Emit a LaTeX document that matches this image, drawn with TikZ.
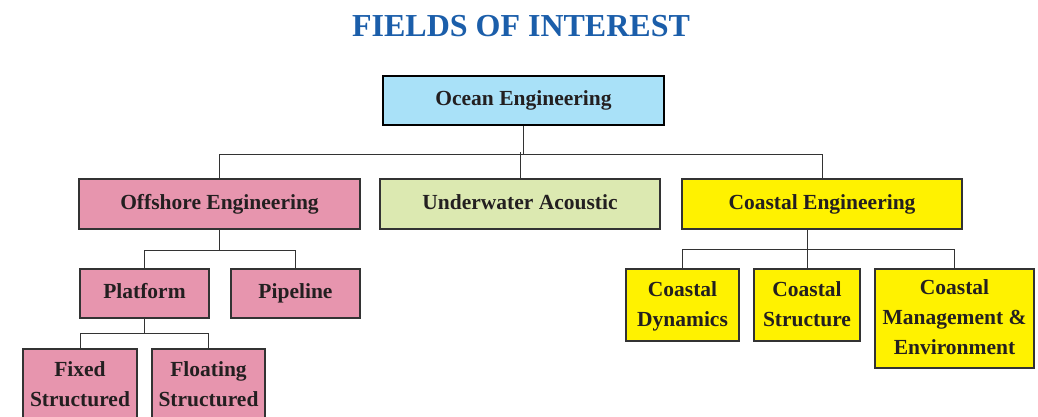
\documentclass[tikz,border=0pt]{standalone}
\usepackage{fontspec}
\setmainfont{Liberation Serif}
\usepackage{xcolor}
\usetikzlibrary{positioning, calc}
\definecolor{titlefg}{HTML}{1B5EAA}
\definecolor{boxfg}{HTML}{231F20}
\definecolor{boxborder}{HTML}{333333}
\definecolor{oceanbg}{HTML}{A9E1F8}
\definecolor{offbg}{HTML}{E795AE}
\definecolor{waterbg}{HTML}{DCE9B1}
\definecolor{coastbg}{HTML}{FFF200}
\definecolor{linkcol}{HTML}{333333}
\tikzset{
    fieldbox/.style 2 args={rectangle, fill=#1, draw=boxborder, line width=1.3pt, minimum width=#2, inner sep=0pt, align=center, font=\fontsize{21.5}{30}\selectfont\bfseries, text=boxfg},
    oneline/.style={text height=15pt, text depth=5pt},
    headbox/.style={rectangle, fill=oceanbg, draw=black, line width=2.4pt, minimum width=281pt, minimum height=49pt, inner sep=0pt, align=center, font=\fontsize{21.5}{30}\selectfont\bfseries, text=boxfg, oneline},
    titletext/.style={font=\fontsize{32}{38}\selectfont\bfseries, text=titlefg},
    link/.style={linkcol, line width=1pt},
}
\begin{document}
\begin{tikzpicture}[x=1pt, y=-1pt]
\useasboundingbox (0,0) rectangle (1038,417);
\node[titletext] (title) at (521,26) {FIELDS OF INTEREST};
\node[headbox] (oceanbox) at (523.5,100.5) {Ocean Engineering};
% second level
\node[fieldbox={offbg}{281pt}, oneline, minimum height=50pt] (offbox) at (219.5,204) {Offshore Engineering};
\node[fieldbox={waterbg}{280pt}, oneline, minimum height=50pt] (waterbox) at (520,204) {Underwater Acoustic};
\node[fieldbox={coastbg}{280pt}, oneline, minimum height=50pt] (coastbox) at (822,204) {Coastal Engineering};
\draw[link] (oceanbox.south) -- ++(0,28) -| (offbox.north);
\draw[link] (oceanbox.south) -- ++(0,28) -| (coastbox.north);
\draw[link] (waterbox.north) -- ++(0,-26);
% offshore branch
\node[fieldbox={offbg}{129pt}, oneline, minimum height=49pt] (platbox) at (144.5,293.5) {Platform};
\node[fieldbox={offbg}{129pt}, oneline, minimum height=49pt] (pipebox) at (295.5,293.5) {Pipeline};
\draw[link] (offbox.south) -- ++(0,21) -| (platbox.north);
\draw[link] (offbox.south) -- ++(0,21) -| (pipebox.north);
\node[fieldbox={offbg}{114pt}, minimum height=72pt] (fixbox) at (80,385) {\strut Fixed\\Structured\strut};
\node[fieldbox={offbg}{113pt}, minimum height=72pt] (floatbox) at (208.5,385) {\strut Floating\\Structured\strut};
\draw[link] (platbox.south) -- ++(0,15) -| (fixbox.north);
\draw[link] (platbox.south) -- ++(0,15) -| (floatbox.north);
% coastal branch
\node[fieldbox={coastbg}{113pt}, minimum height=72pt] (cdynbox) at (682.5,305) {\strut Coastal\\Dynamics\strut};
\node[fieldbox={coastbg}{106pt}, minimum height=72pt] (cstructbox) at (807,305) {\strut Coastal\\Structure\strut};
\node[fieldbox={coastbg}{159pt}, minimum height=99pt] (cmanbox) at (954.5,318.5) {\strut Coastal\\Management \&\\Environment\strut};
\draw[link] (cstructbox.north) -- (cstructbox.north |- coastbox.south);
\draw[link] (cdynbox.north) |- ($(cstructbox.north)+(0,-19)$) -| (cmanbox.north);
\end{tikzpicture}
\end{document}
